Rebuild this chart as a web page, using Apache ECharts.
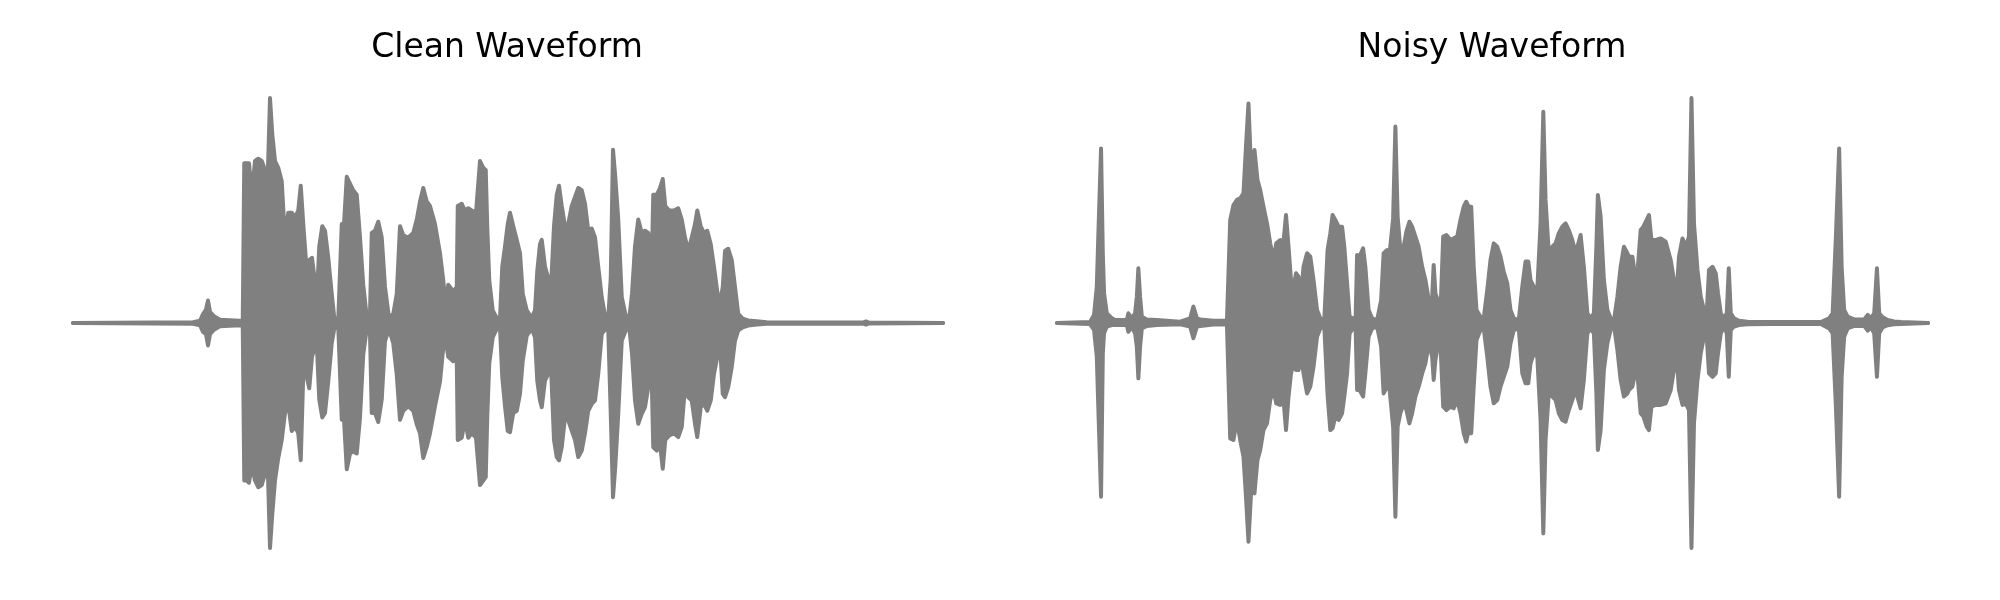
<!DOCTYPE html>
<html>
<head>
<meta charset="utf-8">
<script src="https://cdn.jsdelivr.net/npm/echarts@6/dist/echarts.min.js"></script>
<style>html,body{margin:0;padding:0;background:#fff}#c{width:2000px;height:600px}</style>
</head>
<body>
<div id="c"></div>
<script>
// Time in ms, amplitude envelope (upper / lower)
const cleanTime = [
  0, 480, 508, 520, 532, 540, 548, 564, 588, 668,
  679, 685, 695, 704, 715, 728, 741, 755, 768, 779,
  788, 797, 808, 821, 835, 848, 861, 875, 888, 901,
  911, 921, 935, 945, 956, 967, 975, 985, 997, 1008,
  1021, 1035, 1045, 1061, 1075, 1084, 1095, 1108, 1121, 1135,
  1148, 1161, 1175, 1188, 1195, 1208, 1221, 1235, 1248, 1264,
  1281, 1295, 1308, 1321, 1341, 1361, 1375, 1388, 1401, 1415,
  1428, 1448, 1468, 1481, 1491, 1501, 1521, 1535, 1539, 1555,
  1568, 1581, 1595, 1612, 1628, 1641, 1651, 1657, 1665, 1679,
  1695, 1708, 1717, 1728, 1739, 1748, 1761, 1775, 1788, 1799,
  1815, 1835, 1848, 1857, 1868, 1875, 1888, 1901, 1912, 1924,
  1935, 1944, 1955, 1968, 1981, 1995, 2008, 2021, 2035, 2048,
  2061, 2075, 2088, 2101, 2115, 2128, 2141, 2151, 2160, 2169,
  2181, 2195, 2211, 2225, 2236, 2248, 2261, 2275, 2288, 2301,
  2315, 2321, 2335, 2348, 2359, 2369, 2385, 2404, 2421, 2435,
  2448, 2461, 2475, 2488, 2497, 2511, 2524, 2537, 2551, 2564,
  2577, 2588, 2599, 2608, 2621, 2635, 2648, 2661, 2679, 2701,
  2735, 2775, 3160, 3172, 3184, 3480
];
const cleanUpper = [
  0, 0.003, 0.01, 0.04, 0.06, 0.10, 0.05, 0.03, 0.015, 0.01,
  0.011, 0.71, 0.71, 0.71, 0.57, 0.72, 0.73, 0.72, 0.68, 0.65,
  1.00, 0.84, 0.72, 0.69, 0.63, 0.37, 0.49, 0.49, 0.47, 0.50,
  0.61, 0.44, 0.23, 0.28, 0.29, 0.19, 0.10, 0.34, 0.43, 0.41,
  0.29, 0.13, 0.023, 0.014, 0.44, 0.44, 0.65, 0.62, 0.59, 0.57,
  0.38, 0.17, 0.026, 0.04, 0.40, 0.41, 0.45, 0.38, 0.16, 0.023,
  0.04, 0.13, 0.43, 0.39, 0.38, 0.40, 0.46, 0.54, 0.60, 0.54,
  0.52, 0.44, 0.31, 0.19, 0.07, 0.17, 0.14, 0.16, 0.52, 0.53,
  0.50, 0.51, 0.50, 0.49, 0.72, 0.69, 0.68, 0.43, 0.19, 0.056,
  0.023, 0.019, 0.25, 0.34, 0.44, 0.49, 0.43, 0.37, 0.31, 0.13,
  0.056, 0.023, 0.056, 0.23, 0.35, 0.37, 0.25, 0.20, 0.16, 0.43,
  0.57, 0.61, 0.52, 0.43, 0.44, 0.52, 0.56, 0.60, 0.59, 0.53,
  0.41, 0.42, 0.38, 0.25, 0.115, 0.033, 0.023, 0.20, 0.77, 0.65,
  0.46, 0.115, 0.033, 0.019, 0.13, 0.34, 0.46, 0.40, 0.41, 0.40,
  0.26, 0.57, 0.57, 0.60, 0.64, 0.52, 0.50, 0.50, 0.51, 0.46,
  0.38, 0.32, 0.38, 0.44, 0.50, 0.43, 0.40, 0.41, 0.35, 0.25,
  0.14, 0.085, 0.16, 0.32, 0.33, 0.28, 0.16, 0.04, 0.019, 0.011,
  0.008, 0.003, 0.002, 0.007, 0.002, 0
];
const cleanLower = [
  0, -0.003, -0.01, -0.04, -0.05, -0.10, -0.05, -0.03, -0.015, -0.01,
  -0.011, -0.70, -0.70, -0.71, -0.63, -0.70, -0.73, -0.72, -0.67, -0.64,
  -1.00, -0.85, -0.70, -0.60, -0.52, -0.40, -0.36, -0.48, -0.46, -0.49,
  -0.61, -0.23, -0.24, -0.29, -0.15, -0.11, -0.09, -0.34, -0.42, -0.40,
  -0.26, -0.09, -0.026, -0.015, -0.43, -0.43, -0.65, -0.58, -0.57, -0.58,
  -0.42, -0.14, -0.026, -0.048, -0.40, -0.40, -0.44, -0.34, -0.08, -0.026,
  -0.09, -0.23, -0.43, -0.39, -0.37, -0.39, -0.45, -0.49, -0.60, -0.55,
  -0.49, -0.37, -0.26, -0.11, -0.08, -0.15, -0.17, -0.16, -0.52, -0.51,
  -0.43, -0.51, -0.49, -0.51, -0.72, -0.70, -0.685, -0.42, -0.18, -0.063,
  -0.026, -0.021, -0.24, -0.37, -0.48, -0.485, -0.40, -0.39, -0.315, -0.167,
  -0.056, -0.026, -0.063, -0.256, -0.344, -0.374, -0.256, -0.226, -0.196, -0.52,
  -0.596, -0.61, -0.552, -0.42, -0.433, -0.478, -0.52, -0.596, -0.567, -0.49,
  -0.39, -0.36, -0.344, -0.226, -0.048, -0.03, -0.026, -0.404, -0.774, -0.64,
  -0.404, -0.078, -0.033, -0.019, -0.137, -0.344, -0.448, -0.404, -0.374, -0.285,
  -0.256, -0.552, -0.567, -0.537, -0.648, -0.52, -0.50, -0.49, -0.507, -0.463,
  -0.285, -0.33, -0.344, -0.448, -0.507, -0.374, -0.36, -0.39, -0.344, -0.226,
  -0.152, -0.093, -0.315, -0.33, -0.285, -0.196, -0.078, -0.033, -0.019, -0.011,
  -0.007, -0.003, -0.002, -0.007, -0.002, 0
];

const noisyTime = [
  0, 132, 148, 159, 165, 176, 183, 188, 199, 219,
  232, 279, 285, 299, 312, 319, 325, 332, 339, 359,
  399, 492, 532, 545, 559, 572, 625, 679, 692, 705,
  719, 732, 745, 755, 765, 776, 789, 801, 812, 825,
  839, 852, 865, 876, 892, 905, 915, 925, 935, 945,
  955, 965, 976, 985, 999, 1012, 1025, 1039, 1052, 1068,
  1081, 1092, 1101, 1112, 1125, 1139, 1148, 1159, 1169, 1183,
  1193, 1199, 1209, 1223, 1232, 1245, 1259, 1279, 1295, 1305,
  1319, 1329, 1343, 1352, 1361, 1372, 1385, 1396, 1408, 1419,
  1432, 1445, 1459, 1472, 1481, 1489, 1499, 1505, 1512, 1521,
  1532, 1543, 1556, 1572, 1585, 1599, 1612, 1625, 1635, 1645,
  1655, 1665, 1676, 1692, 1705, 1719, 1732, 1745, 1759, 1772,
  1785, 1799, 1812, 1825, 1845, 1859, 1872, 1883, 1892, 1905,
  1919, 1932, 1943, 1952, 1965, 1979, 1992, 2005, 2019, 2032,
  2045, 2059, 2072, 2092, 2105, 2119, 2132, 2145, 2155, 2161,
  2172, 2185, 2199, 2212, 2225, 2239, 2252, 2265, 2279, 2285,
  2299, 2312, 2321, 2332, 2343, 2356, 2365, 2375, 2392, 2412,
  2432, 2452, 2465, 2476, 2485, 2499, 2512, 2525, 2535, 2545,
  2559, 2572, 2585, 2596, 2605, 2619, 2632, 2641, 2652, 2665,
  2676, 2684, 2692, 2705, 2725, 2759, 2852, 3052, 3085, 3099,
  3112, 3125, 3135, 3145, 3159, 3185, 3225, 3239, 3252, 3265,
  3276, 3285, 3299, 3319, 3345, 3372, 3480
];
const noisyUpper = [
  0, 0.005, 0.036, 0.161, 0.384, 0.776, 0.31, 0.132, 0.043, 0.021,
  0.013, 0.013, 0.043, 0.021, 0.043, 0.117, 0.243, 0.117, 0.028, 0.016,
  0.013, 0.006, 0.021, 0.073, 0.021, 0.016, 0.01, 0.01, 0.458, 0.524,
  0.547, 0.554, 0.576, 0.784, 0.976, 0.665, 0.769, 0.636, 0.591, 0.517,
  0.443, 0.354, 0.28, 0.354, 0.369, 0.361, 0.48, 0.339, 0.191, 0.161,
  0.221, 0.206, 0.132, 0.25, 0.31, 0.295, 0.191, 0.058, 0.021, 0.013,
  0.324, 0.399, 0.48, 0.458, 0.428, 0.428, 0.339, 0.176, 0.028, 0.021,
  0.013, 0.302, 0.295, 0.332, 0.25, 0.058, 0.021, 0.013, 0.102, 0.31,
  0.324, 0.31, 0.465, 0.873, 0.473, 0.324, 0.339, 0.406, 0.45, 0.428,
  0.384, 0.339, 0.25, 0.191, 0.132, 0.058, 0.117, 0.258, 0.132, 0.102,
  0.043, 0.384, 0.391, 0.369, 0.376, 0.384, 0.458, 0.517, 0.539, 0.517,
  0.517, 0.25, 0.058, 0.028, 0.021, 0.147, 0.28, 0.354, 0.339, 0.295,
  0.228, 0.176, 0.058, 0.021, 0.013, 0.161, 0.273, 0.273, 0.191, 0.161,
  0.147, 0.443, 0.939, 0.547, 0.31, 0.339, 0.354, 0.399, 0.428, 0.443,
  0.413, 0.369, 0.31, 0.391, 0.25, 0.043, 0.021, 0.043, 0.339, 0.569,
  0.473, 0.191, 0.058, 0.021, 0.01, 0.117, 0.25, 0.339, 0.31, 0.295,
  0.295, 0.191, 0.25, 0.413, 0.428, 0.458, 0.48, 0.369, 0.369, 0.376,
  0.361, 0.28, 0.191, 0.132, 0.295, 0.376, 0.339, 0.384, 1.0, 0.443,
  0.236, 0.117, 0.058, 0.043, 0.236, 0.25, 0.221, 0.132, 0.043, 0.021,
  0.043, 0.243, 0.043, 0.021, 0.01, 0.006, 0.004, 0.004, 0.021, 0.043,
  0.384, 0.776, 0.25, 0.058, 0.028, 0.016, 0.016, 0.036, 0.021, 0.043,
  0.243, 0.043, 0.025, 0.013, 0.007, 0.004, 0
];
const noisyLower = [
  0, -0.005, -0.031, -0.15, -0.372, -0.772, -0.135, -0.046, -0.016, -0.009,
  -0.009, -0.009, -0.039, -0.016, -0.046, -0.105, -0.246, -0.105, -0.024, -0.013,
  -0.009, -0.006, -0.016, -0.068, -0.016, -0.013, -0.007, -0.007, -0.513, -0.52,
  -0.431, -0.52, -0.594, -0.772, -0.972, -0.742, -0.757, -0.609, -0.564, -0.476,
  -0.446, -0.342, -0.298, -0.357, -0.364, -0.342, -0.476, -0.327, -0.224, -0.179,
  -0.209, -0.209, -0.15, -0.224, -0.313, -0.283, -0.194, -0.061, -0.024, -0.016,
  -0.32, -0.476, -0.468, -0.416, -0.431, -0.401, -0.327, -0.224, -0.046, -0.024,
  -0.016, -0.298, -0.298, -0.327, -0.224, -0.061, -0.024, -0.016, -0.105, -0.313,
  -0.283, -0.298, -0.461, -0.861, -0.461, -0.401, -0.357, -0.387, -0.446, -0.401,
  -0.327, -0.283, -0.224, -0.179, -0.12, -0.105, -0.15, -0.253, -0.164, -0.105,
  -0.09, -0.372, -0.387, -0.372, -0.379, -0.342, -0.401, -0.49, -0.527, -0.476,
  -0.49, -0.283, -0.076, -0.031, -0.024, -0.15, -0.283, -0.357, -0.342, -0.283,
  -0.239, -0.194, -0.09, -0.031, -0.024, -0.224, -0.268, -0.268, -0.179, -0.135,
  -0.15, -0.431, -0.935, -0.52, -0.313, -0.327, -0.342, -0.401, -0.431, -0.439,
  -0.387, -0.342, -0.298, -0.379, -0.253, -0.046, -0.024, -0.046, -0.313, -0.564,
  -0.476, -0.209, -0.09, -0.031, -0.009, -0.12, -0.253, -0.327, -0.313, -0.298,
  -0.283, -0.209, -0.253, -0.401, -0.416, -0.461, -0.476, -0.372, -0.364, -0.364,
  -0.357, -0.298, -0.209, -0.15, -0.298, -0.364, -0.357, -0.387, -1.0, -0.446,
  -0.253, -0.135, -0.061, -0.061, -0.224, -0.239, -0.224, -0.135, -0.046, -0.016,
  -0.046, -0.239, -0.031, -0.016, -0.009, -0.006, -0.004, -0.004, -0.024, -0.046,
  -0.372, -0.772, -0.239, -0.061, -0.024, -0.013, -0.013, -0.034, -0.019, -0.046,
  -0.239, -0.046, -0.019, -0.01, -0.006, -0.004, 0
];
const titles = ['Clean Waveform', 'Noisy Waveform'];

const GRAY = '#808080';
const pair = (t, v) => t.map((x, i) => [x, v[i]]);
function envSeries(idx, t, v) {
  return {
    type: 'line', xAxisIndex: idx, yAxisIndex: idx, data: pair(t, v),
    showSymbol: false, symbol: 'none', silent: true,
    lineStyle: { color: GRAY, width: 4, join: 'round', cap: 'round' },
    areaStyle: { color: GRAY, opacity: 1 },
    itemStyle: { color: GRAY }
  };
}
const titleStyle = { fontFamily: 'DejaVu Sans', fontSize: 33, fontWeight: 'normal', color: '#000' };
const chart = echarts.init(document.getElementById('c'), null, { renderer: 'canvas' });
chart.setOption({
  animation: false,
  backgroundColor: '#ffffff',
  title: [
    { text: titles[0], left: 502, top: 27, textAlign: 'center', textStyle: titleStyle },
    { text: titles[1], left: 1487, top: 27, textAlign: 'center', textStyle: titleStyle }
  ],
  grid: [
    { left: 73, width: 870, top: 75.5, height: 495 },
    { left: 1057, width: 871, top: 75.5, height: 495 }
  ],
  xAxis: [
    { type: 'value', gridIndex: 0, min: 0, max: 3480, show: false },
    { type: 'value', gridIndex: 1, min: 0, max: 3480, show: false }
  ],
  yAxis: [
    { type: 'value', gridIndex: 0, min: -1.1, max: 1.1, show: false },
    { type: 'value', gridIndex: 1, min: -1.1, max: 1.1, show: false }
  ],
  series: [
    envSeries(0, cleanTime, cleanUpper),
    envSeries(0, cleanTime, cleanLower),
    envSeries(1, noisyTime, noisyUpper),
    envSeries(1, noisyTime, noisyLower)
  ]
});
</script>
</body>
</html>
